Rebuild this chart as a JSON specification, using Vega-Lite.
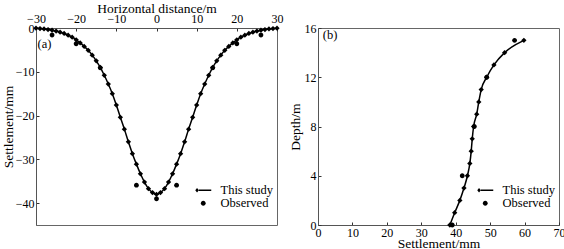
{
  "$schema": "https://vega.github.io/schema/vega-lite/v6.json",
  "background": "white",
  "padding": {"left": 0, "top": 0, "right": 0, "bottom": 0},
  "bounds": "flush",
  "spacing": 41,
  "config": {
    "font": "Liberation Serif",
    "view": {"stroke": "#666", "strokeWidth": 1},
    "axis": {
      "grid": false,
      "labelFontSize": 12,
      "titleFontSize": 13.5,
      "titleFontWeight": "normal",
      "labelColor": "black",
      "titleColor": "black",
      "domainColor": "#555",
      "tickColor": "#333",
      "tickSize": -3,
      "labelPadding": 5,
      "labelFlush": false,
      "labelOverlap": false
    },
    "legend": {
      "labelFontSize": 12.5,
      "labelColor": "black",
      "labelFont": "Liberation Serif"
    }
  },
  "datasets": {
    "a": [
      {"x": -30, "s": -0.05, "series": "This study"},
      {"x": -29, "s": -0.12, "series": "This study"},
      {"x": -28, "s": -0.22, "series": "This study"},
      {"x": -27, "s": -0.35, "series": "This study"},
      {"x": -26, "s": -0.5, "series": "This study"},
      {"x": -25, "s": -0.7, "series": "This study"},
      {"x": -24, "s": -0.95, "series": "This study"},
      {"x": -23, "s": -1.25, "series": "This study"},
      {"x": -22, "s": -1.65, "series": "This study"},
      {"x": -21, "s": -2.1, "series": "This study"},
      {"x": -20, "s": -2.7, "series": "This study"},
      {"x": -19, "s": -3.4, "series": "This study"},
      {"x": -18, "s": -4.2, "series": "This study"},
      {"x": -17, "s": -5.1, "series": "This study"},
      {"x": -16, "s": -6.2, "series": "This study"},
      {"x": -15, "s": -7.5, "series": "This study"},
      {"x": -14, "s": -9.0, "series": "This study"},
      {"x": -13, "s": -10.8, "series": "This study"},
      {"x": -12, "s": -12.8, "series": "This study"},
      {"x": -11, "s": -15.0, "series": "This study"},
      {"x": -10, "s": -17.6, "series": "This study"},
      {"x": -9, "s": -20.4, "series": "This study"},
      {"x": -8, "s": -23.1, "series": "This study"},
      {"x": -7, "s": -26.0, "series": "This study"},
      {"x": -6, "s": -28.7, "series": "This study"},
      {"x": -5, "s": -31.1, "series": "This study"},
      {"x": -4, "s": -33.3, "series": "This study"},
      {"x": -3, "s": -35.2, "series": "This study"},
      {"x": -2, "s": -36.7, "series": "This study"},
      {"x": -1, "s": -37.6, "series": "This study"},
      {"x": 0, "s": -38.0, "series": "This study"},
      {"x": 1, "s": -37.6, "series": "This study"},
      {"x": 2, "s": -36.7, "series": "This study"},
      {"x": 3, "s": -35.2, "series": "This study"},
      {"x": 4, "s": -33.3, "series": "This study"},
      {"x": 5, "s": -31.1, "series": "This study"},
      {"x": 6, "s": -28.7, "series": "This study"},
      {"x": 7, "s": -26.0, "series": "This study"},
      {"x": 8, "s": -23.1, "series": "This study"},
      {"x": 9, "s": -20.4, "series": "This study"},
      {"x": 10, "s": -17.6, "series": "This study"},
      {"x": 11, "s": -15.0, "series": "This study"},
      {"x": 12, "s": -12.8, "series": "This study"},
      {"x": 13, "s": -10.8, "series": "This study"},
      {"x": 14, "s": -9.0, "series": "This study"},
      {"x": 15, "s": -7.5, "series": "This study"},
      {"x": 16, "s": -6.2, "series": "This study"},
      {"x": 17, "s": -5.1, "series": "This study"},
      {"x": 18, "s": -4.2, "series": "This study"},
      {"x": 19, "s": -3.4, "series": "This study"},
      {"x": 20, "s": -2.7, "series": "This study"},
      {"x": 21, "s": -2.1, "series": "This study"},
      {"x": 22, "s": -1.65, "series": "This study"},
      {"x": 23, "s": -1.25, "series": "This study"},
      {"x": 24, "s": -0.95, "series": "This study"},
      {"x": 25, "s": -0.7, "series": "This study"},
      {"x": 26, "s": -0.5, "series": "This study"},
      {"x": 27, "s": -0.35, "series": "This study"},
      {"x": 28, "s": -0.22, "series": "This study"},
      {"x": 29, "s": -0.12, "series": "This study"},
      {"x": 30, "s": -0.05, "series": "This study"},
      {"x": -26, "s": -1.6, "series": "Observed"},
      {"x": -20, "s": -3.6, "series": "Observed"},
      {"x": -14, "s": -9.1, "series": "Observed"},
      {"x": -5, "s": -35.9, "series": "Observed"},
      {"x": 0, "s": -39.0, "series": "Observed"},
      {"x": 5, "s": -35.9, "series": "Observed"},
      {"x": 14, "s": -9.1, "series": "Observed"},
      {"x": 20, "s": -3.6, "series": "Observed"},
      {"x": 26, "s": -1.6, "series": "Observed"}
    ],
    "b": [
      {"settlement": 38.3, "depth": 0, "series": "This study"},
      {"settlement": 39.7, "depth": 1, "series": "This study"},
      {"settlement": 41.2, "depth": 2, "series": "This study"},
      {"settlement": 42.4, "depth": 3, "series": "This study"},
      {"settlement": 43.4, "depth": 4, "series": "This study"},
      {"settlement": 44.1, "depth": 5, "series": "This study"},
      {"settlement": 44.5, "depth": 6, "series": "This study"},
      {"settlement": 44.8, "depth": 7, "series": "This study"},
      {"settlement": 45.2, "depth": 8, "series": "This study"},
      {"settlement": 46.1, "depth": 9, "series": "This study"},
      {"settlement": 46.7, "depth": 10, "series": "This study"},
      {"settlement": 47.4, "depth": 11, "series": "This study"},
      {"settlement": 49.0, "depth": 12, "series": "This study"},
      {"settlement": 51.1, "depth": 13, "series": "This study"},
      {"settlement": 54.2, "depth": 14, "series": "This study"},
      {"settlement": 59.8, "depth": 15, "series": "This study"},
      {"settlement": 39.0, "depth": 0, "series": "Observed"},
      {"settlement": 41.9, "depth": 4, "series": "Observed"},
      {"settlement": 45.4, "depth": 8, "series": "Observed"},
      {"settlement": 49.0, "depth": 12, "series": "Observed"},
      {"settlement": 57.1, "depth": 15, "series": "Observed"}
    ],
    "labels": [
      {"panel": "a", "x": -29.6, "y": -3.6, "text": "(a)"},
      {"panel": "b", "x": 1.4, "y": 15.4, "text": "(b)"}
    ]
  },
  "resolve": {"scale": {"shape": "independent"}, "legend": {"shape": "independent"}},
  "hconcat": [
    {
      "width": 241,
      "height": 197,
      "encoding": {
        "x": {
          "field": "x", "type": "quantitative",
          "scale": {"domain": [-30, 30], "nice": false},
          "axis": {"orient": "top", "title": "Horizontal distance/m", "values": [-30, -20, -10, 0, 10, 20, 30], "labelPadding": 6, "titleY": -27, "titleBaseline": "top"}
        },
        "y": {
          "field": "s", "type": "quantitative",
          "scale": {"domain": [-45, 0], "nice": false},
          "axis": {"title": "Settlement/mm", "values": [0, -10, -20, -30, -40], "titleX": -21, "titleBaseline": "bottom"}
        }
      },
      "layer": [
        {
          "data": {"name": "a"},
          "transform": [{"filter": "datum.series === 'This study'"}],
          "mark": {"type": "line", "color": "black", "strokeWidth": 1.5, "interpolate": "monotone"}
        },
        {
          "data": {"name": "a"},
          "transform": [{"filter": "datum.series === 'This study'"}],
          "mark": {"type": "point", "shape": "diamond", "filled": true, "color": "black", "size": 28, "opacity": 1}
        },
        {
          "data": {"name": "a"},
          "transform": [{"filter": "datum.series === 'Observed'"}],
          "mark": {"type": "point", "filled": true, "color": "black", "size": 64, "opacity": 1},
          "encoding": {
            "shape": {
              "field": "series", "type": "nominal",
              "scale": {"domain": ["This study", "Observed"], "range": ["M-2,0L-1.55,-0.55L-1.1,0L-1.55,0.55Z M-1.1,-0.18L2,-0.18L2,0.18L-1.1,0.18Z", "M0.6,0A0.6,0.6 0 1,1 -0.6,0A0.6,0.6 0 1,1 0.6,0Z"]},
              "legend": {
                "title": null, "orient": "none", "legendX": 161, "legendY": 156,
                "symbolSize": 64, "labelOffset": 11, "rowPadding": 0, "labelFontSize": 12.5,
                "symbolFillColor": "black", "symbolOpacity": 1
              }
            }
          }
        },
        {
          "data": {"name": "labels"},
          "transform": [{"filter": "datum.panel === 'a'"}],
          "mark": {"type": "text", "align": "left", "baseline": "middle", "fontSize": 12.5, "color": "black"},
          "encoding": {"x": {"field": "x", "type": "quantitative"}, "y": {"field": "y", "type": "quantitative"}, "text": {"field": "text"}}
        }
      ]
    },
    {
      "width": 241,
      "height": 197,
      "encoding": {
        "x": {
          "field": "settlement", "type": "quantitative",
          "scale": {"domain": [0, 70], "nice": false},
          "axis": {"orient": "bottom", "title": "Settlement/mm", "values": [0, 10, 20, 30, 40, 50, 60, 70], "labelPadding": 5, "titleY": 22, "titleBaseline": "alphabetic"}
        },
        "y": {
          "field": "depth", "type": "quantitative",
          "scale": {"domain": [0, 16], "nice": false},
          "axis": {"title": "Depth/m", "values": [0, 4, 8, 12, 16], "titlePadding": 2}
        }
      },
      "layer": [
        {
          "data": {"name": "b"},
          "transform": [{"filter": "datum.series === 'This study'"}],
          "mark": {"type": "line", "color": "black", "strokeWidth": 1.5, "interpolate": "monotone"},
          "encoding": {"order": {"field": "depth", "type": "quantitative"}}
        },
        {
          "data": {"name": "b"},
          "transform": [{"filter": "datum.series === 'This study'"}],
          "mark": {"type": "point", "shape": "diamond", "filled": true, "color": "black", "size": 28, "opacity": 1}
        },
        {
          "data": {"name": "b"},
          "transform": [{"filter": "datum.series === 'Observed'"}],
          "mark": {"type": "point", "filled": true, "color": "black", "size": 64, "opacity": 1},
          "encoding": {
            "shape": {
              "field": "series", "type": "nominal",
              "scale": {"domain": ["This study", "Observed"], "range": ["M-2,0L-1.55,-0.55L-1.1,0L-1.55,0.55Z M-1.1,-0.18L2,-0.18L2,0.18L-1.1,0.18Z", "M0.6,0A0.6,0.6 0 1,1 -0.6,0A0.6,0.6 0 1,1 0.6,0Z"]},
              "legend": {
                "title": null, "orient": "none", "legendX": 161, "legendY": 156,
                "symbolSize": 64, "labelOffset": 11, "rowPadding": 0, "labelFontSize": 12.5,
                "symbolFillColor": "black", "symbolOpacity": 1
              }
            }
          }
        },
        {
          "data": {"name": "labels"},
          "transform": [{"filter": "datum.panel === 'b'"}],
          "mark": {"type": "text", "align": "left", "baseline": "middle", "fontSize": 12.5, "color": "black"},
          "encoding": {"x": {"field": "x", "type": "quantitative"}, "y": {"field": "y", "type": "quantitative"}, "text": {"field": "text"}}
        }
      ]
    }
  ]
}
